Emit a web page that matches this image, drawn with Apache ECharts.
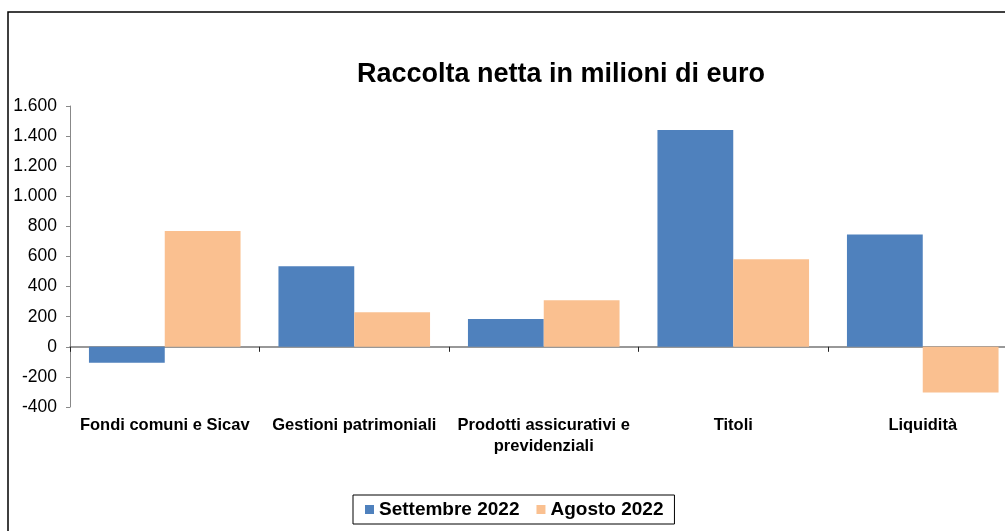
<!DOCTYPE html>
<html>
<head>
<meta charset="utf-8">
<script src="https://cdn.jsdelivr.net/npm/echarts@6/dist/echarts.min.js"></script>
<style>
    html, body { margin: 0; padding: 0; background: #fff; }
    #chart { width: 1005px; height: 531px; }
</style>
</head>
<body>
<div id="chart"></div>
<script>
let categories = ["Fondi comuni e Sicav", "Gestioni patrimoniali", "Prodotti assicurativi e\nprevidenziali", "Titoli", "Liquidità"]
let settembre = [-106, 536, 184, 1440, 747]
let agosto = [769, 230, 310, 581, -303]
let seriesNames = ["Settembre 2022", "Agosto 2022"]

let chart = echarts.init(document.getElementById("chart"))

// numeri in formato italiano: 1.600
function itNum(v) {
    let s = Math.abs(v).toString().replace(/\B(?=(\d{3})+(?!\d))/g, ".")
    return (v < 0 ? "-" : "") + s
}

let option = {
    animation: false,
    textStyle: {fontFamily: "Liberation Sans, Arial, sans-serif"},
    title: {
        text: "Raccolta netta in milioni di euro",
        left: 556,
        textAlign: "center",
        top: 56,
        textStyle: {fontSize: 27, fontWeight: "bold", color: "#000"}
    },
    graphic: [{
        type: "rect",
        shape: {x: 8, y: 12, width: 1100, height: 600},
        style: {fill: "none", stroke: "#000", lineWidth: 1.5},
        silent: true
    }],
    legend: {
        left: 353,
        top: 495,
        padding: [5, 11, 5, 12],
        itemWidth: 9,
        itemHeight: 9,
        itemGap: 17,
        borderColor: "#000",
        borderWidth: 1,
        icon: "rect",
        textStyle: {fontSize: 19, fontWeight: "bold", color: "#000"},
        data: seriesNames
    },
    grid: {left: 70, top: 106, height: 301, width: 947.5, outerBoundsMode: "none"},
    xAxis: {
        type: "category",
        data: categories,
        axisLine: {onZero: true, lineStyle: {color: "#777", width: 1.5}},
        axisTick: {show: true, length: 5, lineStyle: {color: "#222"}},
        axisLabel: {
            margin: 8,
            interval: 0,
            fontSize: 16.5,
            fontWeight: "bold",
            color: "#000",
            lineHeight: 21
        }
    },
    yAxis: {
        type: "value",
        min: -400,
        max: 1600,
        interval: 200,
        splitLine: {show: false},
        axisLine: {show: true, lineStyle: {color: "#888"}},
        axisTick: {show: true, length: 4, lineStyle: {color: "#888"}},
        axisLabel: {fontSize: 17.5, color: "#000", margin: 13, formatter: itNum}
    },
    series: [{
        name: seriesNames[0],
        type: "bar",
        data: settembre,
        barGap: "0%",
        barCategoryGap: "20%",
        itemStyle: {color: "#4f81bd"}
    }, {
        name: seriesNames[1],
        type: "bar",
        data: agosto,
        itemStyle: {color: "#fac090"}
    }]
}
chart.setOption(option)
</script>
</body>
</html>
